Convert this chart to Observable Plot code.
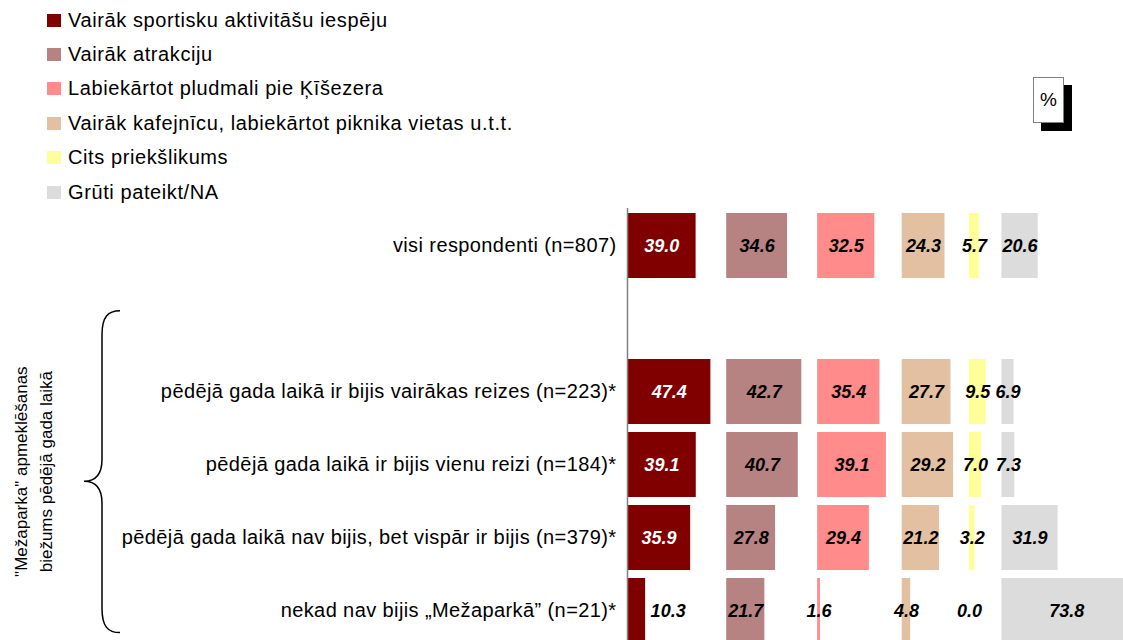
<!DOCTYPE html>
<html><head><meta charset="utf-8">
<script src="https://cdn.jsdelivr.net/npm/d3@7"></script>
<script src="https://cdn.jsdelivr.net/npm/@observablehq/plot@0.6"></script>
<style>
body{margin:0;overflow:hidden;background:#fff;font-family:"Liberation Sans",Arial,sans-serif;}
#wrap{position:relative;width:1123px;height:640px;overflow:hidden;}
#legend{position:relative;height:208px;}
.item{position:absolute;left:47px;height:20px;display:flex;align-items:center;font-size:20px;letter-spacing:0.6px;color:#000;white-space:nowrap;}
.sw{width:14px;height:13px;margin-right:7px;flex:none;}
#pct{position:absolute;left:1033px;top:77px;width:29px;height:44px;border:1px solid #808080;background:#fff;box-shadow:8px 8px 0 #000;font-size:19px;display:flex;align-items:center;justify-content:center;}
</style></head><body>
<div id="wrap"><div id="legend"><div id="pct">%</div></div><div id="chart"></div></div>
<script>
const categories = ["Vairāk sportisku aktivitāšu iespēju", "Vairāk atrakciju", "Labiekārtot pludmali pie Ķīšezera", "Vairāk kafejnīcu, labiekārtot piknika vietas u.t.t.", "Cits priekšlikums", "Grūti pateikt/NA"];
const colors = ["#800000", "#b78282", "#ff8b8b", "#e3c0a1", "#ffff99", "#dcdcdc"];
const rows = ["visi respondenti (n=807)", "pēdējā gada laikā ir bijis vairākas reizes (n=223)*", "pēdējā gada laikā ir bijis vienu reizi (n=184)*", "pēdējā gada laikā nav bijis, bet vispār ir bijis (n=379)*", "nekad nav bijis „Mežaparkā” (n=21)*"];
const sport = [39.0, 47.4, 39.1, 35.9, 10.3];
const atrakcijas = [34.6, 42.7, 40.7, 27.8, 21.7];
const pludmale = [32.5, 35.4, 39.1, 29.4, 1.6];
const kafejnicas = [24.3, 27.7, 29.2, 21.2, 4.8];
const cits = [5.7, 9.5, 7.0, 3.2, 0.0];
const gruti = [20.6, 6.9, 7.3, 31.9, 73.8];
const groupTitle = ["\"Mežaparka\" apmeklēšanas", "biežums pēdējā gada laikā"];

const series = [sport, atrakcijas, pludmale, kafejnicas, cits, gruti];
const gap = 9;
const offsets = [];
let acc = 0;
series.forEach((s, i) => { offsets.push(acc); acc += d3.max(s) + gap; });
const data = [];
series.forEach((s, i) => s.forEach((v, j) => data.push({cat: categories[i], ci: i, row: rows[j], value: v, x1: offsets[i], x2: offsets[i] + v})));
const spacer = " ";
const yDomain = [rows[0], spacer, ...rows.slice(1)];

// legend
const leg = d3.select("#legend");
categories.forEach((c, i) => {
  const it = leg.append("div").attr("class", "item").style("top", (10 + i * 34.4) + "px");
  it.append("div").attr("class", "sw").style("background", colors[i]);
  it.append("span").text(c);
});

const outside = d => d.ci === 0 && d.value < 15;
const chart = Plot.plot({
  width: 1123, height: 440,
  marginLeft: 627, marginRight: 0, marginTop: 0, marginBottom: 0,
  style: {fontFamily: "Liberation Sans, Arial, sans-serif", background: "#fff"},
  x: {domain: [0, 282], axis: null},
  y: {type: "band", domain: yDomain, paddingInner: 0.113, paddingOuter: 0.055, axis: null},
  color: {domain: categories, range: colors},
  marks: [
    Plot.barX(data, {x1: "x1", x2: "x2", y: "row", fill: "cat", clip: true}),
    Plot.ruleX([0], {stroke: "#808080", strokeWidth: 1.5}),
    Plot.axisY({tickSize: 0, tickPadding: 11, fontSize: 20, label: null, tickFormat: d => d.trim(), fill: "#000"}),
    Plot.text(data.filter(d => !outside(d)), {x: d => d.x1 + d.value / 2, y: "row", text: d => d.value.toFixed(1), fill: d => d.ci === 0 ? "#fff" : "#000", fontSize: 18, fontWeight: "bold", fontStyle: "italic"}),
    Plot.text(data.filter(outside), {x: "x2", y: "row", dx: 5, textAnchor: "start", text: d => d.value.toFixed(1), fill: "#000", fontSize: 18, fontWeight: "bold", fontStyle: "italic"})
  ]
});
document.getElementById("chart").append(chart);
d3.select(chart).selectAll("[aria-label='y-axis tick label'] text").style("letter-spacing", "0.4px");

// group brace and title
const svgSel = d3.select(chart);
const yScale = chart.scale("y");
const bw = yScale.bandwidth;
const braceTop = yScale.apply(spacer) + bw * 0.38;
const braceBot = yScale.apply(rows[4]) + bw * 0.84;
const braceTip = braceTop + (braceBot - braceTop) * 0.53;
const xr = 120, xv = 102, xt = 84;
svgSel.append("path")
  .attr("d", `M${xr},${braceTop} C${xv+6},${braceTop} ${xv},${braceTop+6} ${xv},${braceTop+24} L${xv},${braceTip-22} C${xv},${braceTip-8} ${xv-6},${braceTip} ${xt},${braceTip} C${xv-6},${braceTip} ${xv},${braceTip+8} ${xv},${braceTip+22} L${xv},${braceBot-24} C${xv},${braceBot-6} ${xv+6},${braceBot} ${xr},${braceBot}`)
  .attr("fill", "none").attr("stroke", "#000").attr("stroke-width", 1.5);
groupTitle.forEach((t, i) => {
  svgSel.append("text").attr("transform", `translate(${27 + i * 25},${(braceTop + braceBot) / 2}) rotate(-90)`)
    .attr("text-anchor", "middle").attr("font-size", 17).attr("fill", "#000").text(t);
});
</script>
</body></html>
